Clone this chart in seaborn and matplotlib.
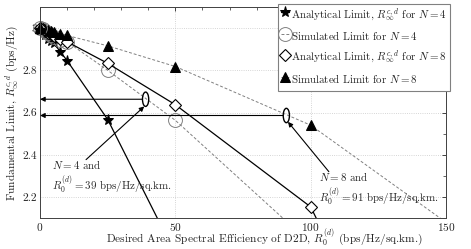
import numpy as np
import pandas as pd
import matplotlib
matplotlib.use("Agg")
import matplotlib.pyplot as plt
import seaborn as sns
from matplotlib.patches import Ellipse
from matplotlib.ticker import MultipleLocator, FixedLocator, FixedFormatter

# ---------------- data ----------------
x_vals = [0, 1, 2, 3, 4, 5, 7.5, 10, 25, 50, 100]
ana_n4 = [2.99, 2.98, 2.965, 2.95, 2.94, 2.93, 2.888, 2.846, 2.567, 1.93, 0.9]
sim_n4 = [3.00, 2.995, 2.985, 2.975, 2.965, 2.958, 2.945, 2.935, 2.80, 2.563, 1.98]
ana_n8 = [3.00, 2.995, 2.985, 2.978, 2.97, 2.962, 2.95, 2.935, 2.833, 2.637, 2.153]
x_ana_n8_tail = [150]
ana_n8_tail = [0.85]
sim_n8 = [3.00, 2.998, 2.995, 2.99, 2.985, 2.98, 2.972, 2.965, 2.916, 2.818, 2.54]
x_sim_n8_tail = [200]
sim_n8_tail = [1.62]

labels = [r"Analytical Limit, $R_\infty^{c,d}$ for $N=4$",
          r"Simulated Limit for $N=4$",
          r"Analytical Limit, $R_\infty^{c,d}$ for $N=8$",
          r"Simulated Limit for $N=8$"]

op_n4 = (39, 2.663)
op_n8 = (91, 2.586)
txt_n4 = [r"$N=4$ and", r"$R_0^{(d)}=39$ bps/Hz/sq.km."]
txt_n8 = [r"$N=8$ and", r"$R_0^{(d)}=91$ bps/Hz/sq.km."]

# ---------------- style ----------------
sns.set_style("white")
plt.rcParams['font.family'] = ['cmr10', 'DejaVu Serif']
plt.rcParams['mathtext.fontset'] = 'cm'
plt.rcParams['axes.formatter.use_mathtext'] = True
plt.rcParams['axes.unicode_minus'] = False

fig = plt.figure(figsize=(4.71, 2.49), dpi=100)
ax = fig.add_axes([0.085, 0.124, 0.862, 0.848])

gray = '#808080'

sns.lineplot(x=x_vals, y=ana_n4, ax=ax, color='k', lw=0.9, marker='*',
             markersize=8, markeredgecolor='k', markerfacecolor='k', sort=False,
             label=labels[0])
sns.lineplot(x=x_vals, y=sim_n4, ax=ax, color=gray, lw=0.7, ls=(0, (3, 2)),
             marker='o', markersize=10, markeredgecolor=gray, markerfacecolor='none',
             markeredgewidth=0.7, sort=False, label=labels[1])
sns.lineplot(x=x_vals + x_ana_n8_tail, y=ana_n8 + ana_n8_tail, ax=ax, color='k', lw=0.9,
             marker='D', markersize=6, markeredgecolor='k', markerfacecolor='white',
             markeredgewidth=0.8, sort=False, label=labels[2])
sns.lineplot(x=x_vals + x_sim_n8_tail, y=sim_n8 + sim_n8_tail, ax=ax, color=gray, lw=0.7,
             ls=(0, (3, 2)), marker='^', markersize=7, markeredgecolor='k',
             markerfacecolor='k', sort=False, label=labels[3])

# markers at x=0 overflow the axes like in the original
ax.plot([x_vals[0]], [sim_n4[0]], 'o', ms=10, mec=gray, mfc='none', mew=0.7, clip_on=False)
ax.plot([x_vals[0]], [ana_n8[0]], 'D', ms=6, mec='k', mfc='white', mew=0.8, clip_on=False)
ax.plot([x_vals[0]], [ana_n4[0]], '*', ms=8, color='k', clip_on=False)
ax.plot([x_vals[0]], [sim_n8[0]], '^', ms=7, color='k', clip_on=False)

# operating points
for (ox, oy) in (op_n4, op_n8):
    ax.add_patch(Ellipse((ox, oy), width=2.3, height=0.068, fill=False, ec='k', lw=1.0, zorder=5))
    ax.annotate('', xy=(0, oy), xytext=(ox - 1.2, oy),
                arrowprops=dict(arrowstyle='-|>', color='k', lw=0.8,
                                mutation_scale=7, shrinkA=0, shrinkB=0))

ax.annotate('', xy=(op_n4[0] - 0.5, op_n4[1] - 0.034), xytext=(17, 2.377),
            arrowprops=dict(arrowstyle='-|>', color='k', lw=0.8, mutation_scale=7,
                            shrinkA=0, shrinkB=0))
ax.annotate('', xy=(op_n8[0] + 0.6, op_n8[1] - 0.03), xytext=(106.7, 2.32),
            arrowprops=dict(arrowstyle='-|>', color='k', lw=0.8, mutation_scale=7,
                            shrinkA=0, shrinkB=0))

ax.text(4.3, 2.295, txt_n4[0] + "\n" + txt_n4[1], fontsize=7.9, va='center', ha='left',
        linespacing=1.25)
ax.text(103, 2.238, txt_n8[0] + "\n" + txt_n8[1], fontsize=7.9, va='center', ha='left',
        linespacing=1.25)

# axes
ax.set_xlim(0, 150)
ax.set_ylim(2.1, 3.1)
ax.xaxis.set_major_locator(FixedLocator([0, 50, 100, 150]))
ax.xaxis.set_minor_locator(MultipleLocator(10))
ax.yaxis.set_major_locator(FixedLocator([2.2, 2.4, 2.6, 2.8, 3.0]))
ax.yaxis.set_major_formatter(FixedFormatter(['2.2', '2.4', '2.6', '2.8', '3']))
ax.yaxis.set_minor_locator(MultipleLocator(0.1))
ax.tick_params(which='both', direction='in', top=True, right=True, labelsize=8.2)
ax.tick_params(which='major', length=3, width=0.6, pad=2)
ax.tick_params(which='minor', length=2, width=0.5)
ax.grid(True, which='major', ls=':', color='#c8c8c8', lw=0.6)
for s in ax.spines.values():
    s.set_color('#404040')
    s.set_linewidth(0.7)

ax.set_xlabel(r"Desired Area Spectral Efficiency of D2D, $R_0^{(d)}$ (bps/Hz/sq.km.)",
              fontsize=8.2, va='bottom')
ax.xaxis.set_label_coords(0.552, -0.1416)
ax.set_ylabel(r"Fundamental Limit, $R_\infty^{c,d}$ (bps/Hz)", fontsize=8.2, labelpad=1)

leg = ax.legend(loc='upper left', bbox_to_anchor=(0.586, 1.016), fontsize=7.9,
                handlelength=0.8, handletextpad=0.15, labelspacing=0.4, handleheight=2.0,
                borderpad=0.25, borderaxespad=0, fancybox=False, framealpha=1,
                edgecolor='#808080')
leg.get_frame().set_linewidth(0.8)

fig.savefig("out.png", dpi=100)
